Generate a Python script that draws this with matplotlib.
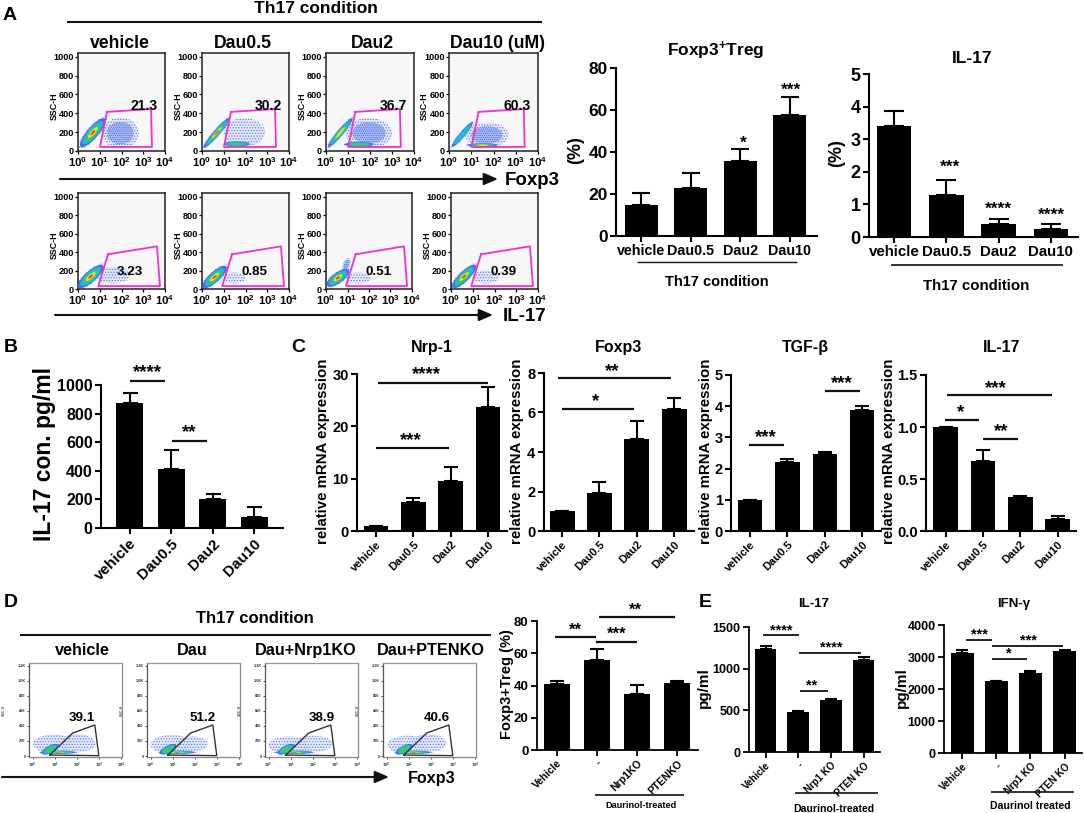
import numpy as np
import matplotlib
matplotlib.use("Agg")
import matplotlib.pyplot as plt
from matplotlib.patches import Polygon

plt.rcParams.update({
    "font.family": ["Liberation Sans", "DejaVu Sans"],
    "font.weight": "bold",
    "mathtext.fontset": "custom",
    "mathtext.rm": "Liberation Sans:bold",
    "mathtext.bf": "Liberation Sans:bold",
    "mathtext.default": "bf",
    "hatch.linewidth": 0.6,
})

W, H = 1084, 813

# ---------- data ----------
groups = ["vehicle", "Dau0.5", "Dau2", "Dau10"]
ko_groups = ["Vehicle", "-", "Nrp1KO", "PTENKO"]
ko_groups2 = ["Vehicle", "-", "Nrp1 KO", "PTEN KO"]

treg_vals = [15, 23, 35.5, 57.5]
treg_errs = [5.5, 7, 6, 8.5]
il17a_vals = [3.4, 1.3, 0.4, 0.25]
il17a_errs = [0.47, 0.45, 0.15, 0.14]
il17b_vals = [875, 415, 205, 75]
il17b_errs = [70, 130, 35, 75]
nrp_vals = [1, 5.5, 9.6, 23.6]
nrp_errs = [0, 0.8, 2.6, 3.9]
foxc_vals = [1, 1.92, 4.68, 6.19]
foxc_errs = [0, 0.55, 0.9, 0.56]
tgf_vals = [1, 2.2, 2.47, 3.87]
tgf_errs = [0, 0.1, 0.06, 0.13]
il17c_vals = [1, 0.675, 0.325, 0.12]
il17c_errs = [0, 0.105, 0.015, 0.025]
tregd_vals = [40.7, 56, 34.5, 41.5]
tregd_errs = [2.3, 6.5, 6, 1.5]
il17e_vals = [1240, 485, 630, 1110]
il17e_errs = [30, 12, 8, 25]
ifn_vals = [3120, 2260, 2510, 3190]
ifn_errs = [90, 5, 40, 35]

top_pcts = ["21.3", "30.2", "36.7", "60.3"]
low_pcts = ["3.23", "0.85", "0.51", "0.39"]
d_pcts = ["39.1", "51.2", "38.9", "40.6"]
top_titles = ["vehicle", "Dau0.5", "Dau2", "Dau10 (uM)"]
d_titles = ["vehicle", "Dau", "Dau+Nrp1KO", "Dau+PTENKO"]

# gates: (log10 fluorescence, SSC)
gate_top_x = [1.33, 3.36, 3.4, 1.01]
gate_top_y = [415, 445, 43, 43]
gate_low_x = [1.38, 3.63, 3.77, 0.93]
gate_low_y = [376, 462, 32, 32]
gate_d_x = [0.78, 1.82, 2.82, 3.0, 0.78]
gate_d_y = [13, 306, 412, 5, 13]

# populations: cx, cy, rx, ry, shear, density levels
pops_top = [
    [(1.95, 190, .85, 165, 0, 2), (.68, 195, .66, 95, 215, 6)],
    [(1.95, 200, .95, 150, 0, 1), (1.6, 75, .65, 30, 0, 4), (.68, 195, .68, 55, 250, 6)],
    [(1.95, 190, 1.05, 160, 0, 2), (1.5, 70, .72, 30, 0, 4), (.65, 195, .62, 55, 260, 5)],
    [(1.7, 170, .98, 130, 0, 2), (1.5, 62, .75, 24, 0, 5), (.6, 175, .52, 50, 260, 3)],
]
pops_low = [
    [(1.6, 150, .8, 90, 0, 1), (.58, 135, .66, 85, 170, 6)],
    [(1.5, 120, .5, 60, 0, 1), (.58, 130, .62, 80, 175, 6)],
    [(1.5, 120, .6, 60, 0, 1), (.95, 260, .2, 70, 200, 2), (.55, 120, .58, 75, 130, 6)],
    [(1.6, 130, .6, 70, 0, 1), (.6, 135, .62, 80, 190, 6)],
]
pops_d = [
    [(2.0, 170, .85, 120, 0, 1), (.95, 160, .92, 125, 0, 1), (.8, 90, .42, 60, 120, 4), (1.15, 50, .9, 24, 0, 6)],
    [(1.9, 160, .7, 100, 0, 1), (.95, 150, .95, 130, 0, 1), (.8, 90, .42, 60, 120, 4), (1.2, 50, .9, 24, 0, 6)],
    [(2.0, 160, .9, 110, 0, 1), (.9, 140, .9, 120, 0, 1), (.8, 90, .42, 60, 120, 4), (1.15, 50, .95, 24, 0, 6)],
    [(1.9, 170, .8, 120, 0, 1), (.95, 150, .92, 120, 0, 1), (.8, 90, .42, 60, 120, 4), (1.2, 50, .9, 24, 0, 6)],
]

jet_levels = ["#c9d6fb", "#3f62e6", "#19c4df", "#37d24a", "#f5e32a", "#e8251f"]
level_scale = [1, .9, .72, .52, .34, .16]

fig = plt.figure(figsize=(W / 100, H / 100), dpi=100, facecolor="white")


def box(x0, y0, x1, y1):
    return [x0 / W, 1 - y1 / H, (x1 - x0) / W, (y1 - y0) / H]


ov = fig.add_axes([0, 0, 1, 1], zorder=20)
ov.set_xlim(0, W)
ov.set_ylim(H, 0)
ov.axis("off")


def text(x, y, s, size, **kw):
    kw.setdefault("ha", "center")
    kw.setdefault("va", "center")
    ov.text(x, y + 1.5, s, fontsize=size, fontweight="bold", **kw)


def hline(x0, x1, y, lw=1.6, color="#111111"):
    ov.plot([x0, x1], [y, y], color=color, lw=lw, solid_capstyle="butt")


def stars(x, y, s, size=13.5):
    ov.text(x, y + size * 0.22, s, fontsize=size, ha="center", va="center", fontweight="bold")


def sig(x0, x1, y, s, sx=None, sy=None, size=13.5, lw=1.6):
    hline(x0, x1, y, lw)
    stars((x0 + x1) / 2 if sx is None else sx, (y - 10) if sy is None else sy, s, size)


def arrow(x0, x1, y):
    ov.annotate("", xy=(x1, y), xytext=(x0, y),
                arrowprops=dict(arrowstyle="-|>,head_length=0.7,head_width=0.3", color="#111111", lw=1.5,
                                shrinkA=0, shrinkB=0, mutation_scale=12))


def bars(x0, x1, ytop, y0, c0, sp, bw, vals, errs, ymax, yticks, ylabels, xlabels, tick_fs, x_fs, rot=45,
         lw=1.5, cap=None, pad=2):
    ax = fig.add_axes(box(x0, ytop, x1, y0))
    ax.patch.set_alpha(0)
    ax.set_xlim((x0 - c0) / sp, (x1 - c0) / sp)
    ax.set_ylim(0, ymax)
    pos = np.arange(len(vals))
    ax.bar(pos, vals, width=bw / sp, color="black", edgecolor="none")
    ax.errorbar(pos, vals, yerr=[np.zeros(len(errs)), errs], fmt="none", ecolor="black",
                elinewidth=1.5, capsize=cap if cap is not None else bw * 0.2, capthick=1.5, clip_on=False)
    ax.set_yticks(yticks)
    ax.set_yticklabels(ylabels, fontsize=tick_fs, fontweight="bold")
    ax.set_xticks(pos)
    if rot:
        ax.set_xticklabels(xlabels, fontsize=x_fs, fontweight="bold", rotation=rot, ha="right",
                           rotation_mode="anchor")
    else:
        ax.set_xticklabels(xlabels, fontsize=x_fs, fontweight="bold")
    ax.tick_params(axis="both", width=lw, length=4, pad=pad)
    for s in ("top", "right"):
        ax.spines[s].set_visible(False)
    for s in ("left", "bottom"):
        ax.spines[s].set_linewidth(lw)
    return ax


def draw_pop(ax, pop):
    t = np.linspace(0, 2 * np.pi, 60)
    cx, cy, rx, ry, shear, levels = pop
    for k in range(levels):
        f = level_scale[k] if levels > 2 else [1, .72][k]
        xs = cx + f * rx * np.cos(t)
        ys = cy + f * ry * np.sin(t) + shear * f * rx * np.cos(t)
        pts = np.c_[xs, ys]
        if k == 0:
            ax.add_patch(Polygon(pts, closed=True, facecolor="#e2e8fd", edgecolor="#3f62e6",
                                 lw=0, hatch="......", alpha=0.8, zorder=2))
        elif k == 1 and levels == 2:
            ax.add_patch(Polygon(pts, closed=True, facecolor="#a9bcf6", edgecolor="#2f4fe0",
                                 lw=0, hatch="........", alpha=0.8, zorder=3))
        else:
            ax.add_patch(Polygon(pts, closed=True, facecolor=jet_levels[k], edgecolor="none",
                                 alpha=0.9, zorder=2 + k))


def flow(x0, y0, x1, y1, pops, gx, gy, big=True):
    ax = fig.add_axes(box(x0, y0, x1, y1))
    if big:
        ax.set_xlim(0, 4)
        ax.set_ylim(0, 1040)
        ax.set_facecolor("#f7f7f7")
        ax.set_xticks(range(5))
        ax.set_xticklabels([r"$\mathbf{10^{%d}}$" % i for i in range(5)], fontsize=8.2)
        ax.set_yticks([0, 200, 400, 600, 800, 1000])
        ax.set_yticklabels(["0", "200", "400", "600", "800", "1000"], fontsize=6.6, fontweight="bold")
        ax.tick_params(length=2, width=0.9, pad=1)
        for s in ax.spines.values():
            s.set_linewidth(1.1)
            s.set_color("#222222")
        ax.plot(gx + gx[:1], gy + gy[:1], color="#f030d0", lw=1.3, zorder=10)
        ax.text(-1.1, 480, "SSC-H", rotation=90, fontsize=6.4, fontweight="bold", ha="center", va="center")
    else:
        ax.set_xlim(-0.16, 4.05)
        ax.set_ylim(-13, 1236)
        ax.set_xticks(range(5))
        ax.set_xticklabels([r"$\mathbf{10^{%d}}$" % i for i in range(5)], fontsize=3, color="#333333")
        ax.set_yticks([0, 200, 400, 600, 800, 1000, 1200])
        ax.set_yticklabels(["0", "200", "400", "600", "800", "1.0K", "1.2K"], fontsize=2.8, fontweight="bold",
                           color="#333333")
        ax.tick_params(length=1.5, width=0.6, pad=1, color="#333333")
        ax.spines["top"].set_color("#999999")
        ax.spines["right"].set_color("#8a8a8a")
        ax.spines["bottom"].set_color("#8a8a8a")
        ax.spines["left"].set_color("#555555")
        for s in ax.spines.values():
            s.set_linewidth(0.9)
        ax.plot(gx, gy, color="#333333", lw=1.0, zorder=10)
        ax.text(-1.3, 600, "SSC-H", rotation=90, fontsize=2.6, color="#555555", ha="center", va="center")
    for p in pops:
        draw_pop(ax, p)
    return ax


# ---------- panel A ----------
text(10, 14, "A", 14)
text(316, 7, "Th17 condition", 12.5)
hline(67, 542, 22, 1.5)
for x, t in zip([120, 243, 372, 498], top_titles):
    text(x, 42, t, 12.7)

top_x = [(78, 165), (202, 289), (326, 414), (449, 538)]
low_x = [(78, 165), (202, 289), (326, 412), (451, 538)]
for (a, b), p in zip(top_x, pops_top):
    flow(a, 53, b, 151, p, gate_top_x, gate_top_y)
for (a, b), p in zip(low_x, pops_low):
    flow(a, 193, b, 289, p, gate_low_x, gate_low_y)
for x, s in zip([144, 268, 393, 517], top_pcts):
    text(x, 105, s, 10)
for x, s in zip([130, 255, 379, 504], low_pcts):
    text(x, 270, s, 9.6)
arrow(60, 498, 179)
text(505, 179, "Foxp3", 13.5, ha="left")
arrow(55, 493, 315)
text(503, 315, "IL-17", 13.5, ha="left")

bars(616, 817, 68, 236, 641, 49.6, 33, treg_vals, treg_errs, 80, [0, 20, 40, 60, 80],
     ["0", "20", "40", "60", "80"], groups, 12.5, 10.3, rot=0, lw=1.5, pad=2)
text(716, 49, r"Foxp3$^{+}$Treg", 12.5)
text(576, 149, "(%)", 13, rotation=90)
hline(637, 797, 262, 1.0)
text(717, 280, "Th17 condition", 10.5)
stars(743, 141, "*", 12.5)
stars(791, 88, "***", 12.5)

bars(869, 1078, 74, 237, 894, 52.3, 34.5, il17a_vals, il17a_errs, 5, [0, 1, 2, 3, 4, 5],
     ["0", "1", "2", "3", "4", "5"], groups, 13, 10.8, rot=0, lw=1.5, pad=2)
text(972, 57, "IL-17", 12.5)
text(837, 152, "(%)", 13, rotation=90)
hline(891, 1063, 265, 1.2)
text(976, 284, "Th17 condition", 10.8)
stars(950, 165, "***", 12.5)
stars(998, 207, "****", 12.5)
stars(1051, 213, "****", 12.5)

# ---------- panel B ----------
text(11, 346, "B", 14)
bars(101, 283, 385, 528, 129.5, 41.5, 27, il17b_vals, il17b_errs, 1000, [0, 200, 400, 600, 800, 1000],
     ["0", "200", "400", "600", "800", "1000"], groups, 11.5, 11, lw=1.5)
text(45, 452, "IL-17 con. pg/ml", 16.5, rotation=90)
sig(130, 165, 381, "****", sy=370)
sig(172, 207, 441, "**", sy=430)

# ---------- panel C ----------
text(298, 346, "C", 14)
cy0 = 531
bars(357, 507, 374, cy0, 376, 37.3, 24.5, nrp_vals, nrp_errs, 30, [0, 10, 20, 30],
     ["0", "10", "20", "30"], groups, 10.5, 8, lw=1.5)
text(432, 346, "Nrp-1", 11.5)
text(323, 450, "relative mRNA expression", 10.8, rotation=90)
sig(378, 488, 383, "****", sx=426, sy=372)
sig(376, 449, 448, "***", sx=411, sy=438)

bars(543.5, 694, 373, cy0, 562, 37.4, 25, foxc_vals, foxc_errs, 8, [0, 2, 4, 6, 8],
     ["0", "2", "4", "6", "8"], groups, 10.5, 8, lw=1.5)
text(618, 346, "Foxp3", 11.5)
text(517.5, 450, "relative mRNA expression", 10.8, rotation=90)
sig(558, 671, 378, "**", sx=612, sy=369)
sig(561.5, 634, 409, "*", sx=596, sy=399)

bars(731, 881, 375, cy0, 750, 37.4, 24.5, tgf_vals, tgf_errs, 5, [0, 1, 2, 3, 4, 5],
     ["0", "1", "2", "3", "4", "5"], groups, 10.5, 8, lw=1.5)
text(805.6, 346, "TGF-β", 11.5)
text(706, 450, "relative mRNA expression", 10.8, rotation=90)
sig(749, 784, 445, "***", sx=766, sy=435)
sig(825, 860, 391, "***", sx=842, sy=381)

bars(926, 1076, 375, cy0, 945.5, 37.4, 24.5, il17c_vals, il17c_errs, 1.5, [0, 0.5, 1.0, 1.5],
     ["0.0", "0.5", "1.0", "1.5"], groups, 10.5, 8, lw=1.5)
text(1002, 346, "IL-17", 11.5)
text(889, 450, "relative mRNA expression", 10.8, rotation=90)
sig(946.6, 1052, 395, "***", sx=996, sy=386)
sig(945, 979, 420, "*", sx=961, sy=410)
sig(983.4, 1018, 439, "**", sx=1001, sy=429)

# ---------- panel D ----------
text(11, 601, "D", 14)
text(255, 617, "Th17 condition", 12)
hline(20, 491, 635, 1.5)
for x, t in zip([82, 192, 306, 431], d_titles):
    text(x, 649, t, 11.7)
d_x = [(29, 122), (147, 240), (265, 358), (383, 476)]
for (a, b), p in zip(d_x, pops_d):
    flow(a, 663, b, 757, p, gate_d_x, gate_d_y, big=False)
for x, s in zip([82, 203, 322, 437], d_pcts):
    text(x, 716, s, 9.6)
arrow(2, 389, 777)
text(432, 777, "Foxp3", 11.6)

bars(537, 698, 621, 750, 557, 40, 26.5, tregd_vals, tregd_errs, 80, [0, 20, 40, 60, 80],
     ["0", "20", "40", "60", "80"], ko_groups, 9.5, 7.5, lw=1.3)
text(507, 683, "Foxp3+Treg (%)", 10.5, rotation=90)
sig(555, 596, 637, "**", sy=628, size=12)
sig(596, 637, 642, "***", sx=617, sy=632, size=12)
sig(599, 675, 617, "**", sx=635, sy=608, size=12)
hline(595, 684, 795, 1.2)
text(641, 804, "Daurinol-treated", 6.6)

# ---------- panel E ----------
text(705, 601, "E", 14)
text(814, 602, "IL-17", 9.5)
text(1014, 602, "IFN-γ", 9.5)
bars(749, 880, 627, 752, 765.5, 32.7, 21.5, il17e_vals, il17e_errs, 1500, [0, 500, 1000, 1500],
     ["0", "500", "1000", "1500"], ko_groups2, 9, 7, lw=1.3)
text(704, 686, "pg/ml", 11, rotation=90)
sig(763, 799, 635, "****", sy=628, size=10.5, lw=1.3)
sig(799, 861, 653, "****", sx=831, sy=645, size=10.5, lw=1.3)
sig(800, 828, 691, "**", sx=812, sy=683, size=10.5, lw=1.3)
hline(795, 878, 793, 1.2)
text(834, 807, "Daurinol-treated", 7.6)

bars(944, 1082, 625, 753, 962, 34.2, 23, ifn_vals, ifn_errs, 4000, [0, 1000, 2000, 3000, 4000],
     ["0", "1000", "2000", "3000", "4000"], ko_groups2, 9, 7, lw=1.3)
text(902, 686, "pg/ml", 11, rotation=90)
sig(966, 992, 640, "***", sx=979, sy=632, size=10.5, lw=1.3)
sig(992, 1063, 646, "***", sx=1028, sy=638, size=10.5, lw=1.3)
sig(992, 1027, 659, "*", sx=1009, sy=651, size=10.5, lw=1.3)
hline(991, 1074, 792, 1.2)
text(1030, 804, "Daurinol treated", 7.6)

fig.savefig("out.png", dpi=100)
